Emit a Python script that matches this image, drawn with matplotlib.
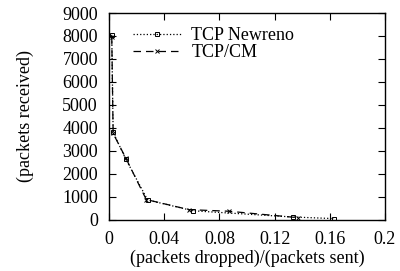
import matplotlib
matplotlib.use("Agg")
import matplotlib.pyplot as plt

plt.rcParams['font.family'] = ['Liberation Serif', 'DejaVu Serif']

# loss rate vs packets received
newreno_x = [0.002, 0.003, 0.012, 0.028, 0.061, 0.133, 0.163]
newreno_y = [8050, 3800, 2650, 850, 380, 110, 40]
cm_x = [0.002, 0.003, 0.012, 0.027, 0.058, 0.087, 0.137]
cm_y = [7950, 3750, 2700, 870, 430, 360, 80]

xticks = [0, 0.04, 0.08, 0.12, 0.16, 0.2]
xticklabels = ['0', '0.04', '0.08', '0.12', '0.16', '0.2']
yticks = list(range(0, 9001, 1000))

fig = plt.figure(figsize=(4.0, 2.71), dpi=100)
ax = fig.add_axes([0.2725, 0.19, 0.69, 0.762])

ax.plot(newreno_x, newreno_y, linestyle=':', color='black', linewidth=0.9,
        marker='s', markersize=3, markerfacecolor='none', markeredgewidth=0.7,
        label='TCP Newreno')
ax.plot(cm_x, cm_y, linestyle=(0, (6, 4)), color='black', linewidth=0.9,
        marker='x', markersize=3, markeredgewidth=0.7, label='TCP/CM')

ax.set_xlim(0, 0.2)
ax.set_ylim(0, 9000)
ax.set_xticks(xticks)
ax.set_xticklabels(xticklabels)
ax.set_yticks(yticks)
ax.tick_params(direction='in', top=True, right=True, labelsize=13, length=5, pad=8)
for s in ax.spines.values():
    s.set_linewidth(1.0)

ax.set_xlabel('(packets dropped)/(packets sent)', fontsize=13, labelpad=1.5)
ax.set_ylabel('(packets received)', fontsize=13, labelpad=20)

ax.legend(loc='upper left', bbox_to_anchor=(0.06, 0.965), frameon=False,
          fontsize=13, handlelength=2.7, handletextpad=0.55, labelspacing=0.0,
          borderaxespad=0)

fig.savefig('out.png', dpi=100)
